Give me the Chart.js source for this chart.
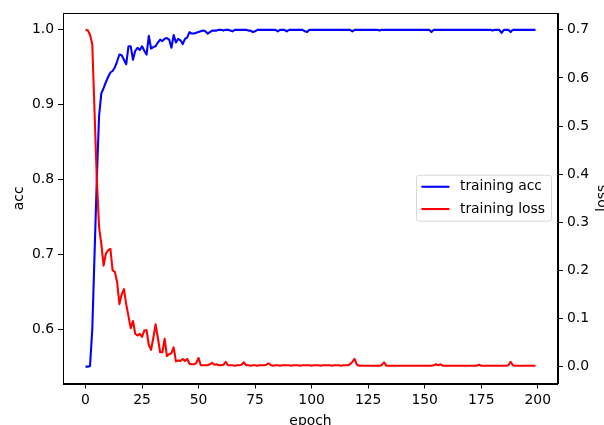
<!DOCTYPE html>
<html lang="en">
<head>
    <meta charset="UTF-8">
    <title>training acc / loss</title>
    <style>
        html, body { margin: 0; padding: 0; background: #fff; }
        #chart { display: block; }
    </style>
</head>
<body>
    <canvas id="chart" width="604" height="425"></canvas>

    <script src="https://cdn.jsdelivr.net/npm/chart.js"></script>
    <script>
        // Values, one per epoch (0..199)
        const acc = [
            0.550, 0.550, 0.551, 0.600, 0.700, 0.800, 0.885, 0.915, 0.922, 0.930,
            0.937, 0.943, 0.945, 0.950, 0.958, 0.967, 0.966, 0.960, 0.954, 0.978,
            0.978, 0.960, 0.972, 0.976, 0.973, 0.978, 0.972, 0.967, 0.992, 0.975,
            0.977, 0.978, 0.983, 0.987, 0.985, 0.988, 0.989, 0.987, 0.976, 0.993,
            0.983, 0.988, 0.986, 0.981, 0.988, 0.990, 0.997, 0.995, 0.995, 0.996,
            0.997, 0.998, 0.999, 0.998, 0.995, 0.997, 0.999, 0.999, 0.999, 1.000,
            1.000, 0.999, 1.000, 1.000, 0.999, 0.998, 1.000, 1.000, 1.000, 1.000,
            1.000, 1.000, 0.999, 0.999, 0.997, 0.998, 1.000, 1.000, 1.000, 1.000,
            1.000, 1.000, 1.000, 1.000, 1.000, 0.998, 1.000, 1.000, 1.000, 0.998,
            1.000, 1.000, 1.000, 1.000, 1.000, 1.000, 1.000, 0.998, 0.997, 1.000,
            1.000, 1.000, 1.000, 1.000, 1.000, 1.000, 1.000, 1.000, 1.000, 1.000,
            1.000, 1.000, 1.000, 1.000, 1.000, 1.000, 1.000, 1.000, 0.998, 1.000,
            1.000, 1.000, 1.000, 1.000, 1.000, 1.000, 1.000, 1.000, 1.000, 1.000,
            0.999, 1.000, 1.000, 1.000, 1.000, 1.000, 1.000, 1.000, 1.000, 1.000,
            1.000, 1.000, 1.000, 1.000, 1.000, 1.000, 1.000, 1.000, 1.000, 1.000,
            1.000, 1.000, 1.000, 0.997, 1.000, 1.000, 1.000, 1.000, 1.000, 1.000,
            1.000, 1.000, 1.000, 1.000, 1.000, 1.000, 1.000, 1.000, 1.000, 1.000,
            1.000, 1.000, 1.000, 1.000, 1.000, 1.000, 1.000, 1.000, 1.000, 1.000,
            0.999, 1.000, 1.000, 1.000, 0.996, 1.000, 1.000, 1.000, 0.997, 1.000,
            1.000, 1.000, 1.000, 1.000, 1.000, 1.000, 1.000, 1.000, 1.000, 1.000
        ];

        const loss = [
            0.700, 0.699, 0.690, 0.670, 0.530, 0.390, 0.290, 0.255, 0.210, 0.235,
            0.242, 0.245, 0.200, 0.197, 0.175, 0.130, 0.150, 0.161, 0.130, 0.105,
            0.080, 0.095, 0.068, 0.065, 0.068, 0.062, 0.075, 0.076, 0.045, 0.035,
            0.060, 0.088, 0.060, 0.030, 0.030, 0.058, 0.022, 0.026, 0.028, 0.040,
            0.011, 0.013, 0.012, 0.016, 0.012, 0.016, 0.006, 0.005, 0.005, 0.008,
            0.018, 0.003, 0.003, 0.003, 0.003, 0.005, 0.008, 0.004, 0.005, 0.003,
            0.003, 0.004, 0.010, 0.003, 0.003, 0.003, 0.002, 0.003, 0.003, 0.004,
            0.009, 0.003, 0.003, 0.002, 0.003, 0.003, 0.002, 0.003, 0.003, 0.003,
            0.004, 0.007, 0.003, 0.002, 0.003, 0.003, 0.002, 0.003, 0.003, 0.003,
            0.003, 0.002, 0.003, 0.003, 0.003, 0.002, 0.003, 0.003, 0.003, 0.003,
            0.002, 0.003, 0.003, 0.003, 0.002, 0.003, 0.003, 0.003, 0.003, 0.002,
            0.003, 0.003, 0.003, 0.002, 0.003, 0.003, 0.003, 0.005, 0.010, 0.016,
            0.004, 0.002, 0.002, 0.002, 0.002, 0.002, 0.002, 0.002, 0.002, 0.002,
            0.002, 0.003, 0.009, 0.002, 0.002, 0.002, 0.002, 0.002, 0.002, 0.002,
            0.002, 0.002, 0.002, 0.002, 0.002, 0.002, 0.002, 0.002, 0.002, 0.002,
            0.002, 0.002, 0.002, 0.002, 0.003, 0.005, 0.003, 0.005, 0.002, 0.002,
            0.002, 0.002, 0.002, 0.002, 0.002, 0.002, 0.002, 0.002, 0.002, 0.002,
            0.002, 0.002, 0.002, 0.002, 0.004, 0.002, 0.002, 0.002, 0.002, 0.002,
            0.002, 0.002, 0.002, 0.002, 0.002, 0.002, 0.002, 0.003, 0.010, 0.003,
            0.002, 0.002, 0.002, 0.002, 0.002, 0.002, 0.002, 0.002, 0.002, 0.002
        ];

        const xTicks = [0, 25, 50, 75, 100, 125, 150, 175, 200];
        const accTicks = [0.6, 0.7, 0.8, 0.9, 1.0];
        const lossTicks = [0.0, 0.1, 0.2, 0.3, 0.4, 0.5, 0.6, 0.7];

        const FONT = { family: "'DejaVu Sans', sans-serif", size: 13.9 };
        const LINE_W = 2.08;   // 1.5pt at 100 dpi

        const toPoints = arr => arr.map((v, i) => ({ x: i, y: v }));

        // axes frame (matplotlib draws all four spines)
        const framePlugin = {
            id: 'frame',
            afterDraw(chart) {
                const { ctx, chartArea: a } = chart;
                ctx.save();
                ctx.strokeStyle = '#000';
                ctx.lineWidth = 1;
                ctx.strokeRect(Math.round(a.left) + 0.5, Math.round(a.top) + 0.5,
                    Math.round(a.right - a.left) - 1, Math.round(a.bottom - a.top));
                ctx.restore();
            }
        };

        // legend box inside the plot, right-centre like matplotlib "best"
        const innerLegend = {
            id: 'innerLegend',
            afterDraw(chart) {
                const { ctx, chartArea: a } = chart;
                const sets = chart.data.datasets;
                ctx.save();
                ctx.font = FONT.size + 'px ' + FONT.family;
                const textW = Math.max(...sets.map(d => ctx.measureText(d.label).width));
                const w = 5 + 28 + 10.5 + textW + 6.5;
                const rowH = 22.3;
                const h = 46;
                const right = a.right - 6.5;
                const left = right - w;
                const top = (a.top + a.bottom) / 2 - h / 2;

                ctx.beginPath();
                ctx.roundRect(left, top, w, h, 3);
                ctx.fillStyle = 'rgba(255,255,255,0.8)';
                ctx.fill();
                ctx.strokeStyle = 'rgba(204,204,204,0.8)';
                ctx.lineWidth = 1;
                ctx.stroke();

                sets.forEach((d, i) => {
                    const y = top + 11.5 + i * rowH;
                    ctx.beginPath();
                    ctx.moveTo(left + 5, y);
                    ctx.lineTo(left + 33, y);
                    ctx.strokeStyle = d.borderColor;
                    ctx.lineWidth = LINE_W;
                    ctx.stroke();
                    ctx.fillStyle = '#000';
                    ctx.textBaseline = 'middle';
                    ctx.fillText(d.label, left + 43.5, y);
                });
                ctx.restore();
            }
        };

        // right y label reads bottom-to-top as in matplotlib
        const rightTitle = {
            id: 'rightTitle',
            afterDraw(chart) {
                const { ctx, chartArea: a } = chart;
                ctx.save();
                ctx.font = FONT.size + 'px ' + FONT.family;
                ctx.fillStyle = '#000';
                ctx.translate(chart.width + 1.5, (a.top + a.bottom) / 2);
                ctx.rotate(-Math.PI / 2);
                ctx.textAlign = 'center';
                ctx.textBaseline = 'alphabetic';
                ctx.fillText(chart.options.scales.y1.title.text, 0, 0);
                ctx.restore();
            }
        };

        const axisCommon = {
            grid: { drawOnChartArea: false, color: '#000', tickLength: 5, tickWidth: 1 },
            border: { color: '#000', width: 1 },
            ticks: { color: '#000', font: FONT, padding: 4 }
        };

        new Chart(document.getElementById('chart'), {
            type: 'line',
            data: {
                datasets: [
                    { label: 'training acc', data: toPoints(acc), yAxisID: 'y',
                      borderColor: '#0000ff', order: 1 },
                    { label: 'training loss', data: toPoints(loss), yAxisID: 'y1',
                      borderColor: '#ff0000', order: 0 }
                ]
            },
            options: {
                responsive: false,
                devicePixelRatio: 1,
                animation: false,
                layout: { padding: { top: 13, left: 0, right: 0, bottom: 0 } },
                elements: {
                    point: { radius: 0 },
                    line: { borderWidth: LINE_W, tension: 0, fill: false,
                            borderJoinStyle: 'round', borderCapStyle: 'butt' }
                },
                plugins: { legend: { display: false }, tooltip: { enabled: false } },
                scales: {
                    x: {
                        ...axisCommon,
                        type: 'linear',
                        min: -9.95,
                        max: 208.95,
                        ticks: { ...axisCommon.ticks, callback: v => String(v) },
                        afterBuildTicks: s => { s.ticks = xTicks.map(v => ({ value: v })); },
                        afterFit: s => { s.height = 41.5; },
                        title: { display: true, text: 'epoch', color: '#000', font: FONT,
                                 padding: { top: 0, bottom: -4.3 } }
                    },
                    y: {
                        ...axisCommon,
                        position: 'left',
                        min: 0.5275,
                        max: 1.0225,
                        ticks: { ...axisCommon.ticks, callback: v => v.toFixed(1) },
                        afterBuildTicks: s => { s.ticks = accTicks.map(v => ({ value: v })); },
                        afterFit: s => { s.width = 63; },
                        title: { display: true, text: 'acc', color: '#000', font: FONT,
                                 padding: { top: 10.7, bottom: 0 } }
                    },
                    y1: {
                        ...axisCommon,
                        position: 'right',
                        min: -0.035,
                        max: 0.735,
                        ticks: { ...axisCommon.ticks, callback: v => v.toFixed(1) },
                        afterBuildTicks: s => { s.ticks = lossTicks.map(v => ({ value: v })); },
                        afterFit: s => { s.width = 46; },
                        title: { display: false, text: 'loss' }
                    }
                }
            },
            plugins: [framePlugin, innerLegend, rightTitle]
        });
    </script>
</body>
</html>
